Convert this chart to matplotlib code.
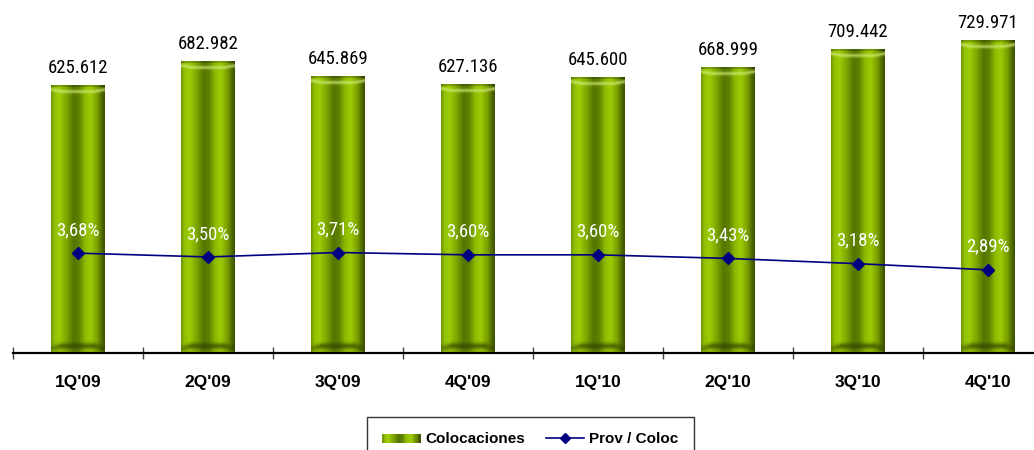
import numpy as np
import matplotlib
matplotlib.use("Agg")
import matplotlib.pyplot as plt
from matplotlib import font_manager as fm
from matplotlib.colors import to_rgb
from matplotlib.legend_handler import HandlerBase
from matplotlib.patches import Rectangle
from matplotlib.lines import Line2D

# ---- data ----
quarters = ["1Q'09", "2Q'09", "3Q'09", "4Q'09", "1Q'10", "2Q'10", "3Q'10", "4Q'10"]
colocaciones = [625.612, 682.982, 645.869, 627.136, 645.600, 668.999, 709.442, 729.971]
prov_coloc = [3.68, 3.50, 3.71, 3.60, 3.60, 3.43, 3.18, 2.89]

# pick a narrow face for the value labels
_fonts = fm.fontManager.ttflist
_names = {f.name for f in _fonts}
NARROW_KW = None
for cand in ["Liberation Sans Narrow", "Arial Narrow", "Roboto Condensed", "Open Sans Condensed"]:
    if cand in _names:
        NARROW_KW = {"family": [cand, "DejaVu Sans"], "fontsize": 13.5}
        break
if NARROW_KW is None:
    if any(f.name == "DejaVu Sans" and f.stretch == "condensed" and f.weight in (400, "normal")
           for f in _fonts):
        NARROW_KW = {"family": ["DejaVu Sans"], "fontstretch": "condensed", "fontsize": 12}
    else:
        NARROW_KW = {"family": ["Roboto", "DejaVu Sans"], "fontsize": 12.5}

BOLD = ["Liberation Sans", "DejaVu Sans"]
LINE_COLOR = "#000080"

# horizontal shading of the cylindrical bars (position across bar, colour)
profile_stops = [
    (0.00, "#6a9000"), (0.06, "#8fbf00"), (0.16, "#9dcc05"), (0.30, "#7aa300"),
    (0.42, "#557500"), (0.52, "#5f8200"), (0.64, "#8fbd00"), (0.74, "#9cca05"),
    (0.86, "#7a9e00"), (0.95, "#4d6600"), (1.00, "#3a4d00"),
]


def profile(t):
    t = np.atleast_1d(t)
    pos = np.array([p for p, _ in profile_stops])
    cols = np.array([to_rgb(c) for _, c in profile_stops])
    return np.stack([np.interp(t, pos, cols[:, k]) for k in range(3)], axis=-1)


def bar_image(h_px, w_px):
    """RGB array for a bevelled cylinder bar of the given pixel size."""
    h = max(int(round(h_px)), 20)
    w = max(int(round(w_px)), 8)
    t = (np.arange(w) + 0.5) / w
    img = np.repeat(profile(t)[None, :, :], h, axis=0)
    light = np.array(to_rgb("#d4ee7a"))
    dark = np.array(to_rgb("#2f3d00"))
    edge = np.minimum(t, 1 - t)
    curve = np.clip(edge / 0.2, 0, 1)
    for r in range(h):
        d = r + 0.5            # from top
        db = h - r - 0.5       # from bottom
        if d < 2:
            img[r] = img[r] * 0.8
        elif d < 10:
            # bright lip, dipping lower towards the middle of the bar
            centre = 4.5 + 2.0 * curve
            wgt = 0.65 * np.exp(-((d - centre) / 1.8) ** 2)
            img[r] = img[r] * (1 - wgt[:, None]) + light * wgt[:, None]
        if db < 2.5:
            img[r] = img[r] * 0.75 + np.array(to_rgb("#8fb000")) * 0.25
        elif db < 16:
            centre = 4.5 + 2.5 * curve
            wgt = 0.65 * np.exp(-((db - centre) / 3.2) ** 2) * (0.5 + 0.5 * curve)
            img[r] = img[r] * (1 - wgt[:, None]) + dark * wgt[:, None]
    return np.clip(img, 0, 1)


class GradientHandler(HandlerBase):
    def create_artists(self, legend, orig_handle, xdescent, ydescent,
                       width, height, fontsize, trans):
        n = 30
        arts = []
        cols = profile((np.arange(n) + 0.5) / n)
        for i in range(n):
            arts.append(Rectangle((-xdescent + i * width / n, -ydescent + 0.0 * height),
                                  width / n * 1.05, height * 0.9,
                                  facecolor=cols[i], edgecolor="none", transform=trans))
        return arts


W, H = 1034, 450
fig = plt.figure(figsize=(W / 100, H / 100), dpi=100)
ax = fig.add_axes([13 / W, 97 / H, 1021 / W, 342 / H])
ax2 = ax.twinx()
x = np.arange(len(quarters))
XLIM = (-0.5, -0.5 + 1021 / 130)
YLIM = (0, 800)
ax.set_xlim(*XLIM)
ax.set_ylim(*YLIM)
ax.set_autoscale_on(False)
ax2.set_autoscale_on(False)
ax2.set_ylim(-1.05, 15.15)

bars = ax.bar(x, colocaciones, width=54 / 130, facecolor="none", edgecolor="none", zorder=2)
ax.set_xlim(*XLIM)
ax.set_ylim(*YLIM)
for b in bars:
    x0, y0, bw, bh = b.get_x(), b.get_y(), b.get_width(), b.get_height()
    p0 = ax.transData.transform((x0, y0))
    p1 = ax.transData.transform((x0 + bw, y0 + bh))
    img = bar_image(p1[1] - p0[1], p1[0] - p0[0])
    ax.imshow(img, extent=(x0, x0 + bw, y0, y0 + bh), aspect="auto",
              interpolation="bilinear", zorder=2, origin="upper")

for xi, v in zip(x, colocaciones):
    ax.annotate(f"{v:.3f}", (xi, v), xytext=(0, 9), textcoords="offset points",
                ha="center", va="baseline", color="#000000", **NARROW_KW)

for s in ["left", "right", "top"]:
    ax.spines[s].set_visible(False)
ax.spines["bottom"].set_linewidth(1.6)
ax.spines["bottom"].set_color("#000000")
ax.set_yticks([])
ax.set_xticks(x)
ax.set_xticklabels(quarters, fontsize=12.5, fontweight="bold", family=BOLD)
ax.tick_params(axis="x", which="major", length=0, pad=16)
ax.set_xticks(np.arange(-0.5, len(quarters), 1.0), minor=True)
ax.tick_params(axis="x", which="minor", direction="inout", length=8, width=1, color="#404040")

ax2.plot(x, prov_coloc, color=LINE_COLOR, lw=1.2, marker="D", ms=6.5, zorder=3)
for xi, v in zip(x, prov_coloc):
    ax2.annotate(f"{v:.2f}".replace(".", ",") + "%", (xi, v), xytext=(0, 13),
                 textcoords="offset points", ha="center", va="baseline",
                 color="white", **NARROW_KW)
for s in ax2.spines.values():
    s.set_visible(False)
ax2.set_yticks([])

ax.set_xlim(*XLIM)
ax.set_ylim(*YLIM)
ax2.set_ylim(-1.05, 15.15)

handles = [Rectangle((0, 0), 1, 1),
           Line2D([], [], color=LINE_COLOR, lw=1.2, marker="D", ms=5)]
leg = fig.legend(handles, ["Colocaciones", "Prov / Coloc"], ncol=2,
                 loc="upper left", bbox_to_anchor=(367 / W, 1 - 417 / H),
                 frameon=True, fancybox=False, edgecolor="#000000",
                 prop={"family": BOLD, "weight": "bold", "size": 11},
                 handler_map={Rectangle: GradientHandler()},
                 handlelength=2.5, handletextpad=0.3, columnspacing=1.4,
                 borderpad=1.0, borderaxespad=0)
leg.get_frame().set_linewidth(1.0)

fig.savefig("out.png", dpi=100)
